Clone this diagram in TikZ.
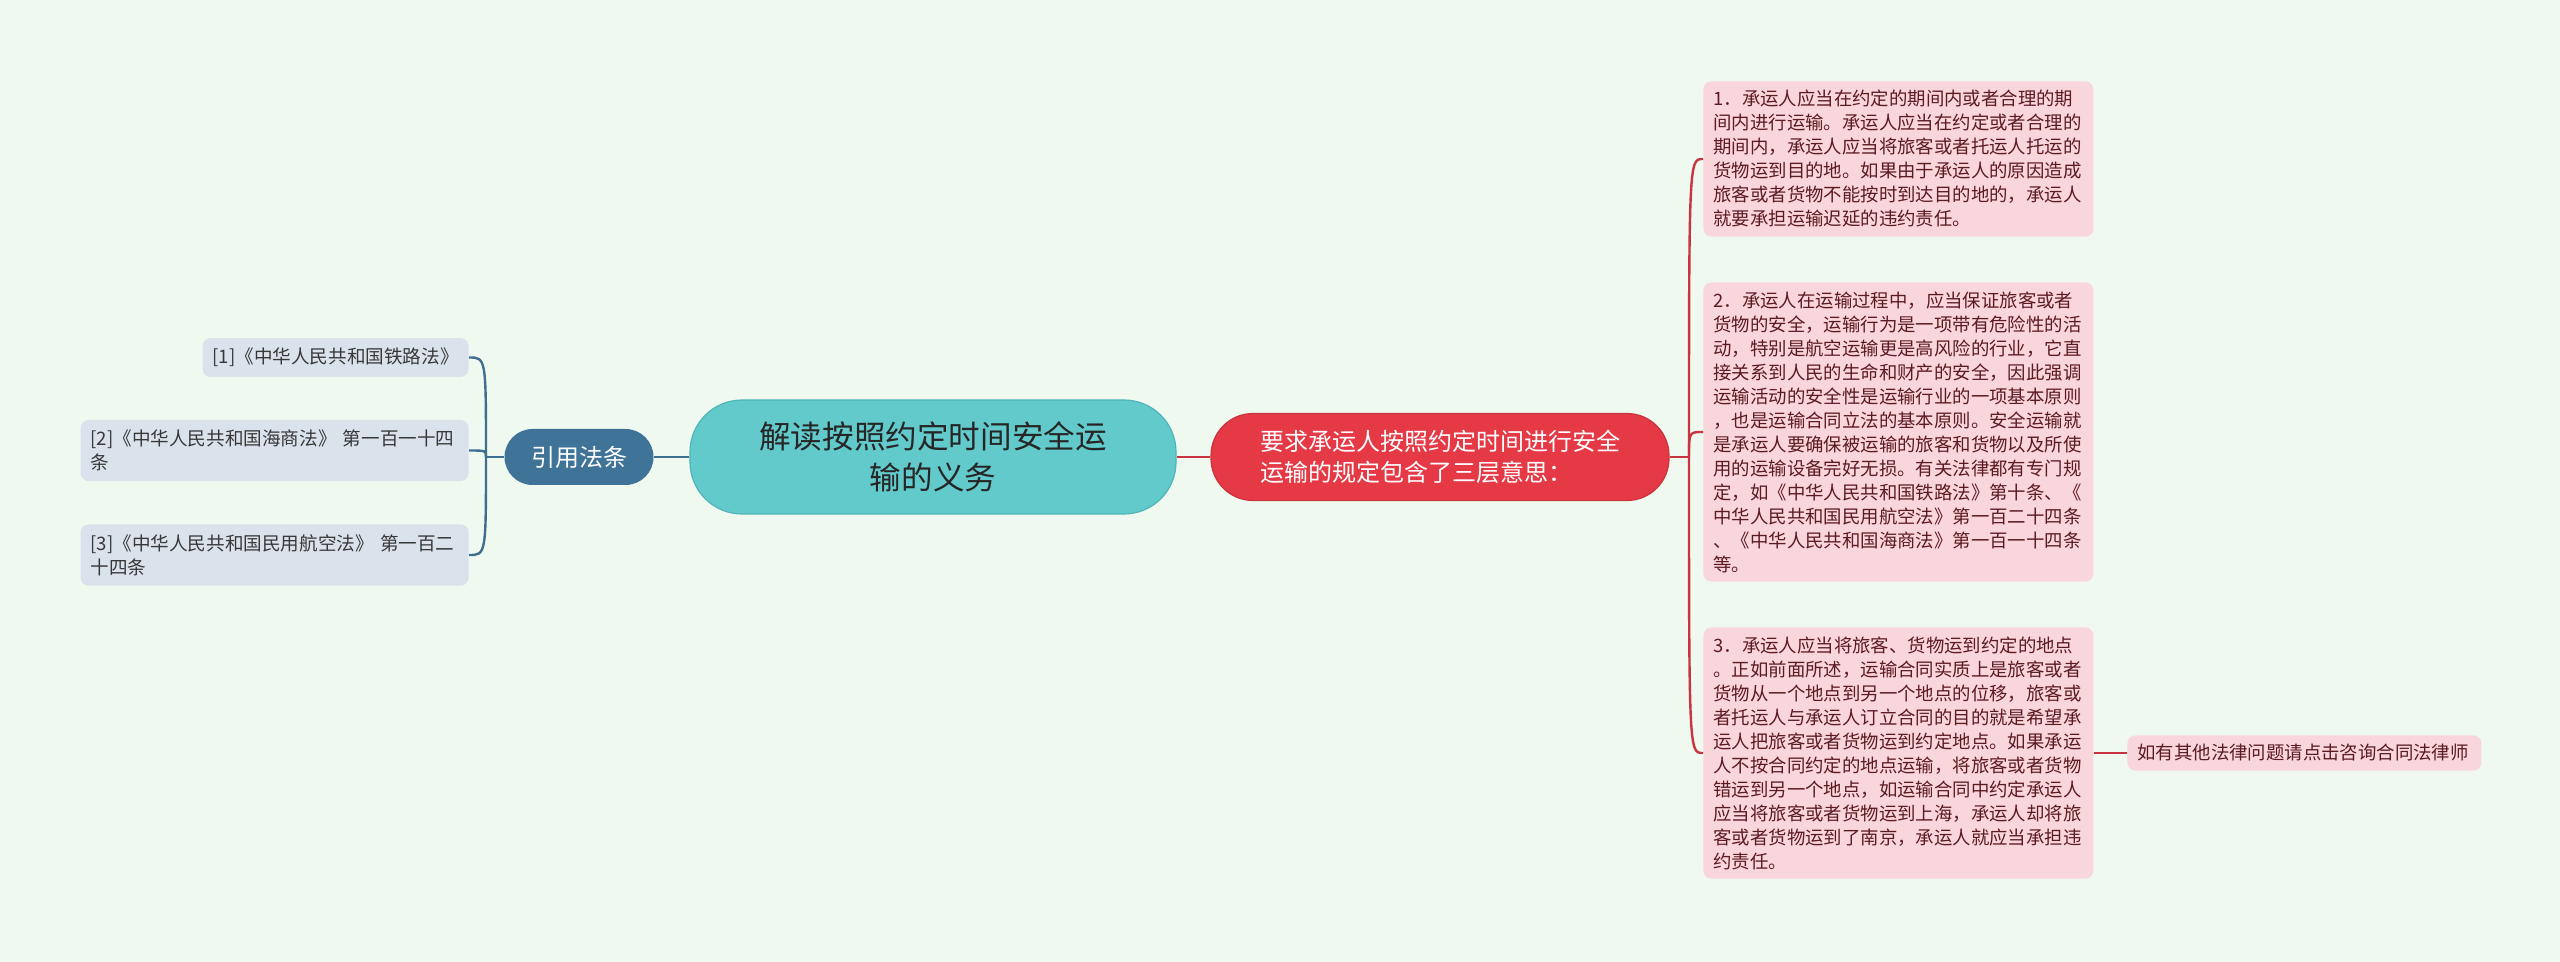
\documentclass[tikz,border=0pt]{standalone}
\usepackage{fontspec}
\newfontfamily\cjk{Noto Sans CJK SC}
\usetikzlibrary{positioning}
\definecolor{bgc}{HTML}{F0F9EF}
\definecolor{rootc}{HTML}{63CACC}
\definecolor{rootd}{HTML}{4FB5B8}
\definecolor{reqc}{HTML}{E53946}
\definecolor{citec}{HTML}{3F7397}
\definecolor{lawc}{HTML}{DAE3EB}
\definecolor{ptc}{HTML}{F9D6DB}
\definecolor{pttext}{HTML}{5C1A21}
\definecolor{redline}{HTML}{C8343F}
\definecolor{blueline}{HTML}{3E6F8F}
\tikzset{
  root/.style={fill=rootc, draw=rootd, line width=0.6pt, rounded corners=26pt, minimum width=243pt,
    minimum height=57pt, align=center, text=black!85, font=\cjk\fontsize{15.8pt}{20.5pt}\selectfont},
  req/.style={fill=reqc, draw=redline, line width=0.6pt, rounded corners=21pt, minimum width=229pt,
    minimum height=43.5pt, align=left, text=white, font=\cjk\fontsize{12pt}{15.5pt}\selectfont},
  cite/.style={fill=citec, rounded corners=14pt, minimum width=74.5pt, minimum height=28pt,
    text=white, font=\cjk\fontsize{12pt}{15pt}\selectfont},
  law/.style={fill=lawc, rounded corners=4pt, inner xsep=5pt, inner ysep=5pt, align=left,
    text=black!78, font=\cjk\fontsize{9.3pt}{12pt}\selectfont},
  pt/.style={fill=ptc, rounded corners=4pt, inner xsep=5pt, inner ysep=4.5pt, text width=185pt,
    align=left, text=pttext, font=\cjk\fontsize{9.2pt}{12pt}\selectfont},
  redlink/.style={draw=redline, line width=1.2pt},
  bluelink/.style={draw=blueline, line width=1.2pt}
}
\begin{document}
\begin{tikzpicture}[x=0.5pt, y=-0.5pt]
  \fill[bgc] (0,0) rectangle (2560,962);
  \useasboundingbox (0,0) rectangle (2560,962);
  % centre and main branches
  \node[root] (root) at (933,457) {解读按照约定时间安全运\\输的义务};
  \node[req] (req) at (1440,457) {要求承运人按照约定时间进行安全\\运输的规定包含了三层意思：};
  \node[cite] (cite) at (579,457) {引用法条};
  % cited laws
  \node[law, anchor=east] (law1) at (469,357.5) {[1]《中华人民共和国铁路法》};
  \node[law, anchor=east, text width=184pt] (law2) at (469,450.5) {[2]《中华人民共和国海商法》 第一百一十四\\条};
  \node[law, anchor=east, text width=184pt] (law3) at (469,555) {[3]《中华人民共和国民用航空法》 第一百二\\十四条};
  % three meanings
  \node[pt, anchor=west] (pt1) at (1703,159) {1．承运人应当在约定的期间内或者合理的期\\间内进行运输。承运人应当在约定或者合理的\\期间内，承运人应当将旅客或者托运人托运的\\货物运到目的地。如果由于承运人的原因造成\\旅客或者货物不能按时到达目的地的，承运人\\就要承担运输迟延的违约责任。};
  \node[pt, anchor=west] (pt2) at (1703,432) {2．承运人在运输过程中，应当保证旅客或者\\货物的安全，运输行为是一项带有危险性的活\\动，特别是航空运输更是高风险的行业，它直\\接关系到人民的生命和财产的安全，因此强调\\运输活动的安全性是运输行业的一项基本原则\\，也是运输合同立法的基本原则。安全运输就\\是承运人要确保被运输的旅客和货物以及所使\\用的运输设备完好无损。有关法律都有专门规\\定，如《中华人民共和国铁路法》第十条、《\\中华人民共和国民用航空法》第一百二十四条\\、《中华人民共和国海商法》第一百一十四条\\等。};
  \node[pt, anchor=west] (pt3) at (1703,753) {3．承运人应当将旅客、货物运到约定的地点\\。正如前面所述，运输合同实质上是旅客或者\\货物从一个地点到另一个地点的位移，旅客或\\者托运人与承运人订立合同的目的就是希望承\\运人把旅客或者货物运到约定地点。如果承运\\人不按合同约定的地点运输，将旅客或者货物\\错运到另一个地点，如运输合同中约定承运人\\应当将旅客或者货物运到上海，承运人却将旅\\客或者货物运到了南京，承运人就应当承担违\\约责任。};
  \node[pt, anchor=west, text width=167pt] (ask) at (2127,753) {如有其他法律问题请点击咨询合同法律师};
  % connectors
  \coordinate (lj) at (486,457);
  \coordinate (rj) at (1689,457);
  \draw[bluelink] (root.west) -- (cite.east);
  \draw[bluelink] (cite.west) -- (lj);
  \foreach \n in {law1,law2,law3}
    \draw[bluelink] (lj) .. controls (lj |- \n.east) .. (\n.east);
  \draw[redlink] (root.east) -- (req.west);
  \draw[redlink] (req.east) -- (rj);
  \foreach \n in {pt1,pt2,pt3}
    \draw[redlink] (rj) .. controls (rj |- \n.west) .. (\n.west);
  \draw[redlink] (pt3.east) -- (ask.west);
\end{tikzpicture}
\end{document}
